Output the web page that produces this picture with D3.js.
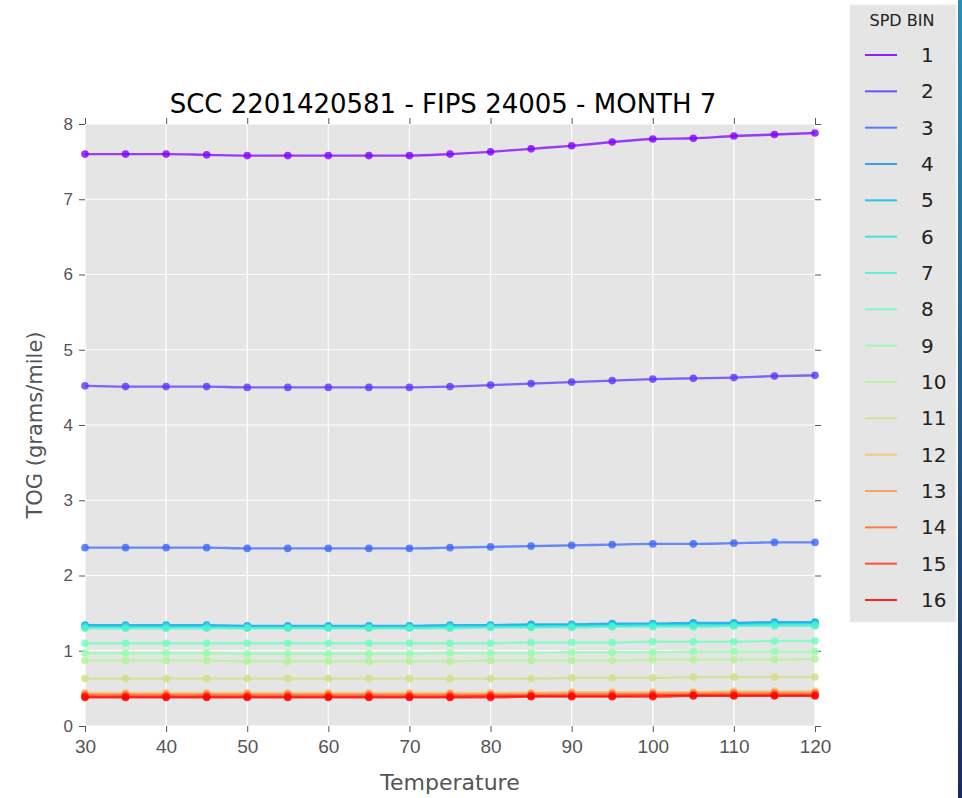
<!DOCTYPE html>
<html>
<head>
<meta charset="utf-8">
<script src="https://cdn.jsdelivr.net/npm/d3@7"></script>
<style>
  html, body { margin: 0; padding: 0; background: #fff; }
  svg { display: block; font-family: "DejaVu Sans", sans-serif; }
</style>
</head>
<body>
<div id="chart"></div>
<script>
// chart data
const temps = [30, 35, 40, 45, 50, 55, 60, 65, 70, 75, 80, 85, 90, 95, 100, 105, 110, 115, 120];
const spdBins = ['1', '2', '3', '4', '5', '6', '7', '8', '9', '10', '11', '12', '13', '14', '15', '16'];
const xTicks = [30, 40, 50, 60, 70, 80, 90, 100, 110, 120];
const yTicks = [0, 1, 2, 3, 4, 5, 6, 7, 8];

const bin1 = [7.60, 7.60, 7.60, 7.59, 7.58, 7.58, 7.58, 7.58, 7.58, 7.60, 7.63, 7.67, 7.71, 7.76, 7.80, 7.81, 7.84, 7.86, 7.88];
const bin2 = [4.52, 4.51, 4.51, 4.51, 4.50, 4.50, 4.50, 4.50, 4.50, 4.51, 4.53, 4.55, 4.57, 4.59, 4.61, 4.62, 4.63, 4.65, 4.66];
const bin3 = [2.37, 2.37, 2.37, 2.37, 2.36, 2.36, 2.36, 2.36, 2.36, 2.37, 2.38, 2.39, 2.40, 2.41, 2.42, 2.42, 2.43, 2.44, 2.44];
const bin4 = [1.34, 1.34, 1.34, 1.34, 1.33, 1.33, 1.33, 1.33, 1.33, 1.34, 1.34, 1.35, 1.35, 1.36, 1.36, 1.37, 1.37, 1.38, 1.38];
const bin5 = [1.33, 1.33, 1.33, 1.33, 1.32, 1.32, 1.32, 1.32, 1.32, 1.33, 1.33, 1.34, 1.34, 1.35, 1.35, 1.36, 1.36, 1.37, 1.37];
const bin6 = [1.32, 1.32, 1.32, 1.32, 1.31, 1.31, 1.31, 1.31, 1.31, 1.32, 1.32, 1.32, 1.33, 1.33, 1.34, 1.34, 1.34, 1.35, 1.35];
const bin7 = [1.30, 1.30, 1.30, 1.30, 1.30, 1.30, 1.30, 1.30, 1.30, 1.30, 1.31, 1.31, 1.31, 1.32, 1.32, 1.32, 1.33, 1.33, 1.33];
const bin8 = [1.10, 1.10, 1.10, 1.10, 1.10, 1.10, 1.10, 1.10, 1.10, 1.10, 1.10, 1.11, 1.11, 1.11, 1.12, 1.12, 1.12, 1.13, 1.13];
const bin9 = [0.97, 0.97, 0.97, 0.97, 0.96, 0.96, 0.96, 0.96, 0.96, 0.97, 0.97, 0.97, 0.98, 0.98, 0.98, 0.99, 0.99, 0.99, 0.99];
const bin10 = [0.87, 0.87, 0.87, 0.87, 0.86, 0.86, 0.86, 0.86, 0.86, 0.86, 0.87, 0.87, 0.87, 0.87, 0.88, 0.88, 0.88, 0.88, 0.89];
const bin11 = [0.63, 0.63, 0.63, 0.63, 0.63, 0.63, 0.63, 0.63, 0.63, 0.63, 0.63, 0.63, 0.64, 0.64, 0.64, 0.65, 0.65, 0.65, 0.65];
const bin12 = [0.44, 0.44, 0.44, 0.44, 0.44, 0.44, 0.44, 0.44, 0.44, 0.44, 0.44, 0.44, 0.45, 0.45, 0.45, 0.45, 0.46, 0.46, 0.46];
const bin13 = [0.42, 0.42, 0.42, 0.42, 0.42, 0.42, 0.42, 0.42, 0.42, 0.42, 0.42, 0.43, 0.43, 0.43, 0.43, 0.44, 0.44, 0.44, 0.44];
const bin14 = [0.41, 0.41, 0.41, 0.41, 0.41, 0.41, 0.41, 0.41, 0.41, 0.41, 0.41, 0.41, 0.42, 0.42, 0.42, 0.42, 0.43, 0.43, 0.43];
const bin15 = [0.39, 0.39, 0.39, 0.39, 0.39, 0.39, 0.39, 0.39, 0.39, 0.39, 0.40, 0.40, 0.40, 0.40, 0.41, 0.41, 0.41, 0.41, 0.41];
const bin16 = [0.38, 0.38, 0.38, 0.38, 0.38, 0.38, 0.38, 0.38, 0.38, 0.38, 0.38, 0.39, 0.39, 0.39, 0.39, 0.40, 0.40, 0.40, 0.40];

const allBins = [bin1, bin2, bin3, bin4, bin5, bin6, bin7, bin8, bin9, bin10, bin11, bin12, bin13, bin14, bin15, bin16];

// matplotlib 'rainbow' colormap
function rainbow(t) {
    const r = Math.min(1, Math.abs(2 * t - 0.5));
    const g = Math.sin(Math.PI * t);
    const b = Math.cos(Math.PI * t / 2);
    return d3.rgb(r * 255, g * 255, b * 255).formatHex();
}

const width = 962;
const height = 798;
const margin = { left: 85, right: 815, top: 124, bottom: 726 };

const svg = d3.select('#chart')
    .append('svg')
    .attr('width', width)
    .attr('height', height);

const x = d3.scaleLinear().domain([30, 120]).range([margin.left, margin.right]);
const y = d3.scaleLinear().domain([0, 8]).range([margin.bottom, margin.top]);

// gray panel
svg.append('rect')
    .attr('x', margin.left)
    .attr('y', margin.top)
    .attr('width', margin.right - margin.left)
    .attr('height', margin.bottom - margin.top)
    .attr('fill', '#e5e5e5');

// grid
const grid = svg.append('g').attr('stroke', '#fff').attr('stroke-width', 1.2);
grid.selectAll('.vg').data(xTicks).join('line')
    .attr('x1', (d) => x(d)).attr('x2', (d) => x(d))
    .attr('y1', margin.top).attr('y2', margin.bottom);
grid.selectAll('.hg').data(yTicks).join('line')
    .attr('x1', margin.left).attr('x2', margin.right)
    .attr('y1', (d) => y(d)).attr('y2', (d) => y(d));

// axes (ggplot style: ticks on all four sides, no spines)
function styleAxis(g, size) {
    g.select('.domain').remove();
    g.selectAll('.tick line').attr('stroke', '#555').attr('stroke-width', 1);
    g.selectAll('.tick text').attr('fill', '#555').style('font-size', size + 'px');
}
svg.append('g')
    .attr('transform', `translate(0,${margin.bottom})`)
    .call(d3.axisBottom(x).tickValues(xTicks).tickSize(6).tickPadding(8).tickFormat(d3.format('d')))
    .call(styleAxis, 19);
svg.append('g')
    .attr('transform', `translate(0,${margin.top})`)
    .call(d3.axisTop(x).tickValues(xTicks).tickSize(6).tickFormat(''))
    .call(styleAxis, 16);
svg.append('g')
    .attr('transform', `translate(${margin.left},0)`)
    .call(d3.axisLeft(y).tickValues(yTicks).tickSize(6).tickPadding(6).tickFormat(d3.format('d')))
    .call(styleAxis, 17);
svg.append('g')
    .attr('transform', `translate(${margin.right},0)`)
    .call(d3.axisRight(y).tickValues(yTicks).tickSize(6).tickFormat(''))
    .call(styleAxis, 16);

// series, last bin drawn on top as in the original
const line = d3.line()
    .x((d, i) => x(temps[i]))
    .y((d) => y(d))
    .curve(d3.curveMonotoneX);

const series = svg.append('g');
allBins.forEach((vals, k) => {
    const col = rainbow(k / (allBins.length - 1));
    const sg = series.append('g');
    sg.append('path')
        .datum(vals)
        .attr('fill', 'none')
        .attr('stroke', col)
        .attr('stroke-width', 2.4)
        .attr('stroke-opacity', 0.75)
        .attr('d', line);
    sg.selectAll('circle')
        .data(vals)
        .join('circle')
        .attr('cx', (d, i) => x(temps[i]))
        .attr('cy', (d) => y(d))
        .attr('r', 3.8)
        .attr('fill', col)
        .attr('fill-opacity', 0.8);
});

// title + axis labels
svg.append('text')
    .attr('x', 443)
    .attr('y', 113)
    .attr('text-anchor', 'middle')
    .attr('fill', '#000')
    .style('font-size', '26px')
    .text('SCC 2201420581 - FIPS 24005 - MONTH 7');

svg.append('text')
    .attr('x', (margin.left + margin.right) / 2)
    .attr('y', 790)
    .attr('text-anchor', 'middle')
    .attr('fill', '#555')
    .style('font-size', '22px')
    .text('Temperature');

svg.append('text')
    .attr('transform', `translate(42,${(margin.top + margin.bottom) / 2}) rotate(-90)`)
    .attr('text-anchor', 'middle')
    .attr('fill', '#555')
    .style('font-size', '21px')
    .text('TOG (grams/mile)');

// legend
const leg = svg.append('g');
leg.append('rect')
    .attr('x', 850)
    .attr('y', 5)
    .attr('width', 106)
    .attr('height', 617)
    .attr('fill', '#e5e5e5')
    .attr('stroke', '#eeeeee');
leg.append('text')
    .attr('x', 902)
    .attr('y', 26)
    .attr('text-anchor', 'middle')
    .attr('fill', '#222')
    .style('font-size', '16px')
    .text('SPD BIN');

const legY = d3.scaleLinear().domain([0, spdBins.length - 1]).range([55, 600]);
spdBins.forEach((name, k) => {
    const col = rainbow(k / (spdBins.length - 1));
    leg.append('line')
        .attr('x1', 865).attr('x2', 897)
        .attr('y1', legY(k)).attr('y2', legY(k))
        .attr('stroke', col)
        .attr('stroke-width', 2)
        .attr('stroke-opacity', 0.85);
    leg.append('text')
        .attr('x', 921)
        .attr('y', legY(k) + 7)
        .attr('fill', '#222')
        .style('font-size', '20px')
        .text(name);
});

// window edge strip on the right
const defs = svg.append('defs');
const grad = defs.append('linearGradient')
    .attr('id', 'edge')
    .attr('x1', 0).attr('y1', 0).attr('x2', 0).attr('y2', 1);
grad.append('stop').attr('offset', '0%').attr('stop-color', '#2b8db5');
grad.append('stop').attr('offset', '50%').attr('stop-color', '#235d8c');
grad.append('stop').attr('offset', '100%').attr('stop-color', '#1b2a5c');
svg.append('rect')
    .attr('x', 958)
    .attr('y', 0)
    .attr('width', 4)
    .attr('height', height)
    .attr('fill', 'url(#edge)');
</script>
</body>
</html>
